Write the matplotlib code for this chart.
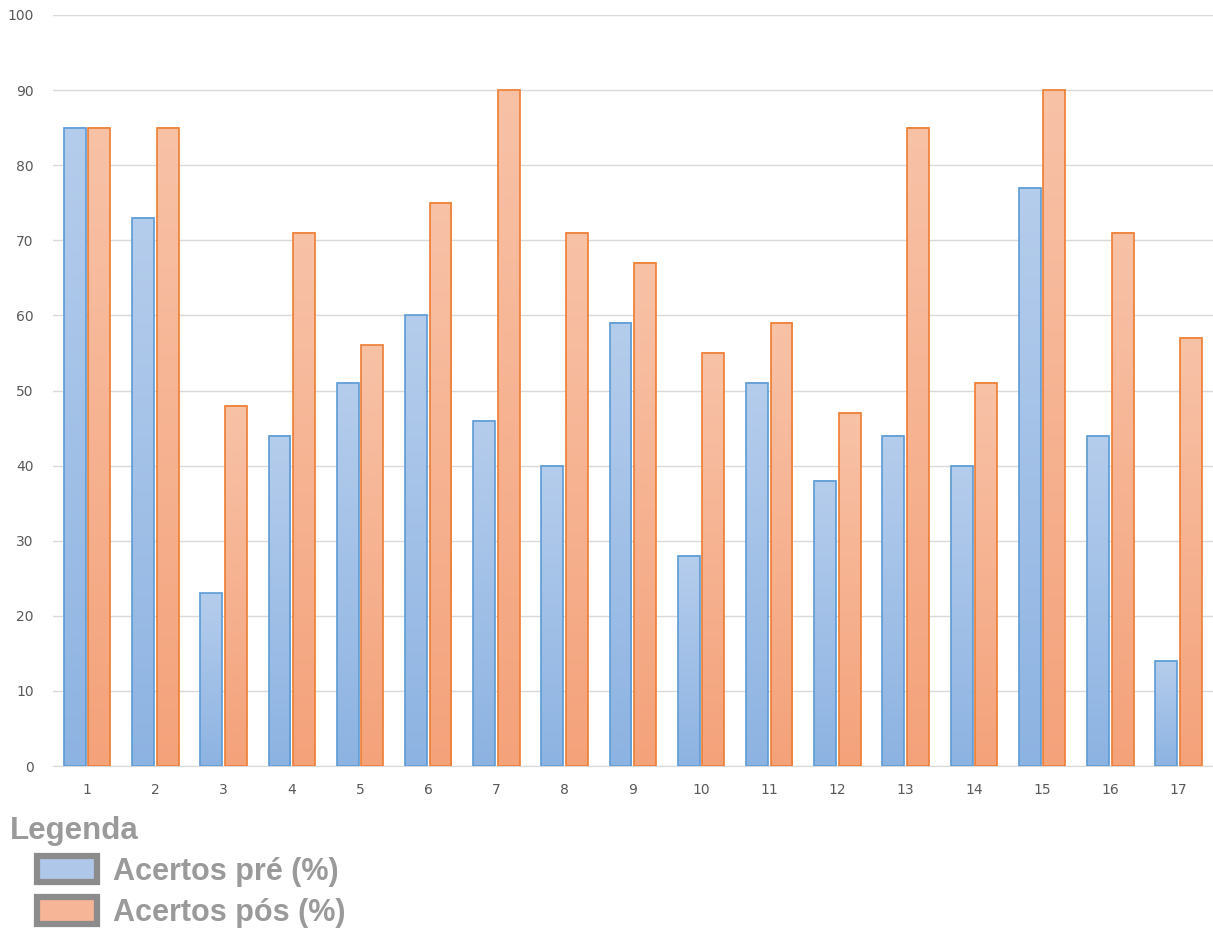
import matplotlib.pyplot as plt
import numpy as np
from matplotlib.colors import LinearSegmentedColormap
from matplotlib.patches import Patch

questoes = [str(i) for i in range(1, 18)]
acertos_pre = [85, 73, 23, 44, 51, 60, 46, 40, 59, 28, 51, 38, 44, 40, 77, 44, 14]
acertos_pos = [85, 85, 48, 71, 56, 75, 90, 71, 67, 55, 59, 47, 85, 51, 90, 71, 57]
yticks = list(range(0, 101, 10))

fig = plt.figure(figsize=(12.13, 9.3), dpi=100)
ax = fig.add_axes([0.0437, 0.1763, 0.956, 0.8076])

x = np.arange(len(questoes))
w = 0.32
grad = np.linspace(1, 0, 256).reshape(-1, 1)

series = [
    (acertos_pre, -0.18, "#5b9bd5", ["#8db3e2", "#b5cdec"]),
    (acertos_pos, 0.18, "#ed7d31", ["#f4a27a", "#f8c2a7"]),
]
for vals, off, edge, cols in series:
    cmap = LinearSegmentedColormap.from_list("g", cols)
    bars = ax.bar(x + off, vals, w, facecolor="none", edgecolor=edge,
                  linewidth=1.2, zorder=3)
    # gradient fill inside each bar
    for b in bars:
        x0 = b.get_x()
        ax.imshow(grad, extent=[x0, x0 + b.get_width(), 0, b.get_height()],
                  aspect="auto", cmap=cmap, vmin=0, vmax=1, zorder=2,
                  interpolation="bilinear")

ax.set_xlim(-0.5, len(questoes) - 0.5)
ax.set_ylim(0, 100)
ax.set_yticks(yticks)
ax.set_xticks(x)
ax.set_xticklabels(questoes)
ax.grid(axis="y", color="#d9d9d9", linewidth=1, zorder=0)
ax.set_axisbelow(True)
for s in ["top", "right", "left"]:
    ax.spines[s].set_visible(False)
ax.spines["bottom"].set_color("#d9d9d9")
ax.tick_params(axis="both", length=0, colors="#595959", labelsize=10)
ax.tick_params(axis="y", pad=14)
ax.tick_params(axis="x", pad=12)

# legend block below the chart
fig.text(10 / 1213, 1 - 831 / 930, "Legenda", fontsize=22.5, fontweight="bold",
         family="Liberation Sans", color="#9a9a9a", va="center", ha="left")
handles = [
    Patch(facecolor="#afc8ea", edgecolor="#8c8c8c", linewidth=4.5),
    Patch(facecolor="#f6b597", edgecolor="#8c8c8c", linewidth=4.5),
]
leg = fig.legend(handles, ["Acertos pré (%)", "Acertos pós (%)"],
                 loc="upper left", bbox_to_anchor=(37 / 1213, 1 - 856 / 930),
                 frameon=False, handlelength=1.95, handleheight=0.95,
                 labelspacing=0.35, handletextpad=0.55, borderaxespad=0,
                 borderpad=0,
                 prop={"size": 22, "weight": "bold", "family": "Liberation Sans"})
for t in leg.get_texts():
    t.set_color("#9a9a9a")

fig.savefig("out.png", dpi=100)
